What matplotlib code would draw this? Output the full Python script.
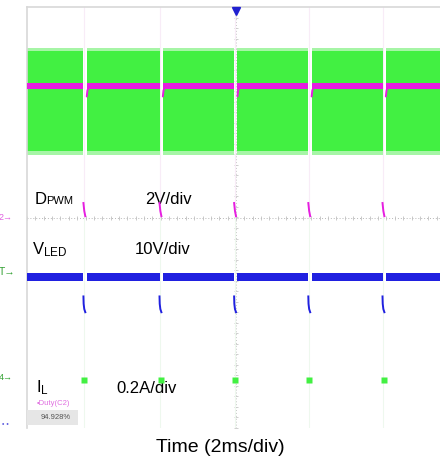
import numpy as np
import matplotlib
matplotlib.use("Agg")
import matplotlib.pyplot as plt
from matplotlib.patches import Rectangle

plt.rcParams['font.family'] = ['Liberation Sans', 'DejaVu Sans']
plt.rcParams['mathtext.fontset'] = 'custom'
plt.rcParams['mathtext.rm'] = 'Liberation Sans'
plt.rcParams['mathtext.it'] = 'Liberation Sans'

# scope settings (divisions)
time_per_div_ms = 2.0
dpwm_v_per_div = 2.0
vled_v_per_div = 10.0
il_a_per_div = 0.2
dpwm_ground_div = 0.0
vled_ground_div = -3.94
il_ground_div = -3.04

# PWM dimming edges (ms, screen centre = 0)
gap_start_ms = [-7.30, -3.66, -0.09, 3.46, 7.01]
off_ms = 0.16

# D_PWM
dpwm_high_v = 5.0
dpwm_off_t = [0.0, 0.04, 0.09]
dpwm_off_v = [0.55, 0.25, 0.05]
dpwm_rec_t = [0.0, 0.03, 0.09, 0.2]
dpwm_rec_v = [4.6, 4.82, 4.95, 5.0]

# V_LED
vled_max_v = 28.9
vled_min_v = 27.4
vled_off_t = [0.0, 0.01, 0.04, 0.09]
vled_off_v = [24.4, 23.0, 22.0, 21.4]

# I_L envelope (switching ripple)
il_max_a = 1.24
il_min_a = 0.86
il_off_a = -0.01

duty_text = "94.928%"

fig = plt.figure(figsize=(4.4, 4.61), dpi=100)
ax = fig.add_axes([27 / 440, 1 - 428 / 461, 418 / 440, 421 / 461])
ax.set_xlim(-10, 10)
ax.set_ylim(-4, 4)
ax.set_xticks([])
ax.set_yticks([])
for s in ['right', 'bottom']:
    ax.spines[s].set_visible(False)
for s in ['top', 'left']:
    ax.spines[s].set_color('#d8d8d8')
    ax.spines[s].set_linewidth(1.2)

green = '#42f042'
green_lt = '#a6f5a6'
blue = '#2020e0'
mag = '#e61ee0'

def to_div(val, per_div, gnd):
    return np.asarray(val, dtype=float) / per_div + gnd

# on segments between gaps
starts = [-10.0] + [g + off_ms for g in gap_start_ms]
ends = gap_start_ms + [10.0]

il_hi = to_div(il_max_a, il_a_per_div, il_ground_div)
il_lo = to_div(il_min_a, il_a_per_div, il_ground_div)
vl_hi = to_div(vled_max_v, vled_v_per_div, vled_ground_div)
vl_lo = to_div(vled_min_v, vled_v_per_div, vled_ground_div)
dp_hi = to_div(dpwm_high_v, dpwm_v_per_div, dpwm_ground_div)

# faint transition lines
for g in gap_start_ms:
    ax.plot([g + 0.04, g + 0.04], [dpwm_ground_div, 4], color='#f8ecf7', lw=0.8, zorder=1)
    ax.plot([g + 0.04, g + 0.04], [-4, dpwm_ground_div], color='#eef8ee', lw=0.8, zorder=1)

for a, b in zip(starts, ends):
    ax.fill_between([a, b], il_lo - 0.07, il_hi + 0.07, color=green_lt, lw=0, zorder=2)
    ax.fill_between([a, b], il_lo, il_hi, color=green, lw=0, zorder=2)
    ax.fill_between([a, b], vl_lo, vl_hi, color=blue, lw=0, zorder=3)
    ax.fill_between([a, b], dp_hi - 0.05, dp_hi + 0.05, color=mag, lw=0, zorder=4)

for g in gap_start_ms:
    t_on = g + off_ms
    ax.plot(t_on + np.array(dpwm_rec_t), to_div(dpwm_rec_v, dpwm_v_per_div, dpwm_ground_div),
            color=mag, lw=1.4, zorder=4, solid_capstyle='round')
    ax.plot(g + np.array(dpwm_off_t), to_div(dpwm_off_v, dpwm_v_per_div, dpwm_ground_div),
            color=mag, lw=1.4, zorder=4)
    ax.plot(g + np.array(vled_off_t), to_div(vled_off_v, vled_v_per_div, vled_ground_div),
            color=blue, lw=1.4, zorder=4)
    ax.plot([g + 0.05], [to_div(il_off_a, il_a_per_div, il_ground_div)], marker='s',
            ms=4.5, color=green, mec='none', zorder=4)

# centre graticule
ax.axhline(0, color='#b8b8b8', lw=0.7, ls=(0, (1, 2)), zorder=0)
ax.axvline(0, color='#c8c8c8', lw=0.7, ls=(0, (1, 2)), zorder=0)
xt = np.arange(-10, 10.01, 0.4)
ax.plot(xt, np.zeros_like(xt), '|', color='#c0c0c0', ms=3, mew=0.6, zorder=0)
yt = np.arange(-4, 4.01, 0.2)
ax.plot(np.zeros_like(yt), yt, '_', color='#c8c8c8', ms=3, mew=0.6, zorder=0)

# trigger marker
ax.plot([0], [3.93], marker='v', color='#2020d0', ms=6, clip_on=False, zorder=6)

# channel labels
fs = 12
ax.text(-9.62, 0.25, 'D', fontsize=fs)
ax.text(-9.10, 0.25, 'PWM', fontsize=8)
ax.text(-4.35, 0.25, '2V/div', fontsize=fs)
ax.text(-9.78, -0.70, r'V$_{\mathrm{LED}}$', fontsize=fs)
ax.text(-4.83, -0.70, '10V/div', fontsize=fs)
ax.text(-9.57, -3.33, r'I$_{\mathrm{L}}$', fontsize=fs)
ax.text(-5.70, -3.33, '0.2A/div', fontsize=fs)
ax.text(-9.55, -3.57, '\u2022Duty(C2)', fontsize=5.5, color='#e070e0')
ax.add_patch(Rectangle((-10, -3.94), 2.45, 0.29, color='#e6e6e6', lw=0, zorder=5))
ax.text(-9.35, -3.80, duty_text, fontsize=5.5, color='#555555', va='center', zorder=6)

# left channel markers
ax.text(-11.35, 0.0, '2\u2192', fontsize=6.5, color='#e060e0', va='center', clip_on=False)
ax.text(-11.35, -1.03, 'T\u2192', fontsize=7.5, color='#30a030', va='center', clip_on=False)
ax.text(-11.35, -3.04, '4\u2192', fontsize=6.5, color='#30a030', va='center', clip_on=False)
ax.text(-11.2, -3.94, '\u2022 \u2022', fontsize=5, color='#6060e0', va='center', clip_on=False)

fig.text(0.5, 1 - 447 / 461, 'Time (2ms/div)', ha='center', va='center', fontsize=14)

fig.savefig('out.png', dpi=100)
